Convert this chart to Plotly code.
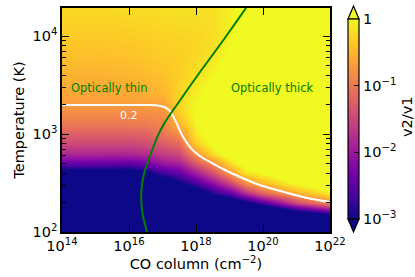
import plotly.graph_objects as go

# log10 of CO column density (heatmap column centres)
LOG_N = [14, 15, 16, 16.5, 17, 17.5, 18, 18.5, 19, 19.5, 20, 21, 22]
# log10 of temperature (heatmap row centres)
LOG_T = [2.0, 2.1, 2.2, 2.3, 2.4, 2.5, 2.6, 2.7, 2.8, 2.9, 3.0, 3.1, 3.2, 3.3, 3.4, 3.6, 3.8, 4.0, 4.3]

# log10(v2/v1), one list per column (values over LOG_T)
ratio_n14 = [-6, -6, -5.5, -5, -4.6, -4, -3.3, -2.4, -1.85, -1.5, -1.25, -1.0, -0.85, -0.7, -0.62, -0.52, -0.42, -0.33, -0.22]
ratio_n15 = [-6, -6, -5.5, -5, -4.6, -4, -3.3, -2.4, -1.85, -1.5, -1.25, -1.0, -0.85, -0.7, -0.62, -0.52, -0.42, -0.33, -0.22]
ratio_n16 = [-6, -6, -5.5, -5, -4.6, -4, -3.35, -2.45, -1.85, -1.5, -1.25, -1.0, -0.85, -0.7, -0.61, -0.5, -0.4, -0.32, -0.21]
ratio_n16h = [-6, -6, -5.5, -5, -4.5, -3.8, -3.1, -2.3, -1.8, -1.45, -1.2, -0.98, -0.83, -0.68, -0.55, -0.45, -0.36, -0.3, -0.2]
ratio_n17 = [-6, -6, -5.5, -5, -4.3, -3.5, -2.7, -2.0, -1.6, -1.3, -1.05, -0.9, -0.8, -0.69, -0.5, -0.4, -0.32, -0.27, -0.18]
ratio_n17h = [-6, -6, -5.5, -4.9, -4.0, -3.1, -2.45, -1.9, -1.5, -1.15, -0.82, -0.5, -0.32, -0.25, -0.26, -0.3, -0.3, -0.26, -0.16]
ratio_n18 = [-6, -6, -5.5, -4.5, -3.5, -2.6, -1.95, -1.3, -0.78, -0.3, -0.12, -0.02, 0.02, 0.0, -0.06, -0.17, -0.24, -0.25, -0.18]
ratio_n18h = [-6, -6, -5, -3.8, -2.85, -2.1, -1.4, -0.8, -0.2, 0.05, 0.15, 0.2, 0.2, 0.18, 0.12, -0.03, -0.14, -0.2, -0.17]
ratio_n19 = [-6, -6, -5, -3.6, -2.45, -1.5, -0.75, -0.2, 0.2, 0.35, 0.4, 0.4, 0.4, 0.4, 0.35, 0.15, 0.05, -0.05, -0.08]
ratio_n19h = [-6, -6, -4.8, -3.2, -1.75, -0.8, -0.15, 0.2, 0.5, 0.5, 0.5, 0.5, 0.5, 0.5, 0.5, 0.4, 0.35, 0.2, 0.1]
ratio_n20 = [-6, -5.5, -4.2, -2.6, -1.2, -0.45, 0.0, 0.3, 0.5, 0.5, 0.5, 0.5, 0.5, 0.5, 0.5, 0.5, 0.5, 0.45, 0.4]
ratio_n21 = [-6, -5, -3.2, -1.5, -0.5, 0.05, 0.4, 0.5, 0.5, 0.5, 0.5, 0.5, 0.5, 0.5, 0.5, 0.5, 0.5, 0.5, 0.5]
ratio_n22 = [-6, -5, -2.5, -0.85, -0.1, 0.3, 0.5, 0.5, 0.5, 0.5, 0.5, 0.5, 0.5, 0.5, 0.5, 0.5, 0.5, 0.5, 0.5]

COLUMNS = [ratio_n14, ratio_n15, ratio_n16, ratio_n16h, ratio_n17, ratio_n17h, ratio_n18,
           ratio_n18h, ratio_n19, ratio_n19h, ratio_n20, ratio_n21, ratio_n22]

# v2/v1 = 0.2 contour (log10 N, log10 T)
contour_logN = [14.0, 16.627, 16.866, 17.045, 17.194, 17.313, 17.433, 17.552, 17.672, 17.821,
                18.0, 18.209, 18.478, 18.806, 19.313, 19.821, 20.358, 20.955, 21.463, 22.0]
contour_logT = [3.296, 3.296, 3.291, 3.276, 3.245, 3.184, 3.102, 3.010, 2.939, 2.867,
                2.806, 2.755, 2.704, 2.643, 2.561, 2.490, 2.434, 2.378, 2.337, 2.306]

# optical-depth (tau = 1) boundary
tau_logN = [16.537, 16.418, 16.364, 16.382, 16.463, 16.582, 16.716, 16.836, 17.060, 17.299,
            17.552, 17.821, 18.119, 18.448, 18.776, 19.134, 19.493]
tau_logT = [2.0, 2.163, 2.327, 2.469, 2.612, 2.735, 2.857, 2.964, 3.112, 3.235,
            3.357, 3.490, 3.633, 3.786, 3.939, 4.112, 4.286]

X_TICKS = [14, 16, 18, 20, 22]
X_TICKTEXT = ["10<sup>14</sup>", "10<sup>16</sup>", "10<sup>18</sup>", "10<sup>20</sup>", "10<sup>22</sup>"]
Y_TICKS = [2, 3, 4]
Y_TICKTEXT = ["10<sup>2</sup>", "10<sup>3</sup>", "10<sup>4</sup>"]
Y_MINOR = [0.30103, 0.47712, 0.60206, 0.69897, 0.77815, 0.84510, 0.90309, 0.95424]
CB_TICKS = [-3, -2, -1, 0]
CB_TICKTEXT = ["10<sup>−3</sup>", "10<sup>−2</sup>", "10<sup>−1</sup>", "1"]

Y_TOP = 4.286

z = [[col[i] for col in COLUMNS] for i in range(len(LOG_T))]
y_minor_vals = [d + m for d in [2, 3] for m in Y_MINOR] + [4 + m for m in Y_MINOR if 4 + m < Y_TOP]

FONT = "DejaVu Sans"
GREEN = "#008000"
FS = 14.5


def px(xp):
    return (xp - 62) / 268


def py(yp):
    return (232 - yp) / 224


fig = go.Figure()
fig.add_trace(go.Heatmap(
    x=LOG_N, y=LOG_T, z=z, zmin=-3, zmax=0, colorscale="Plasma", zsmooth="best",
    hoverinfo="skip",
    colorbar=dict(
        x=px(348), xanchor="left", xpad=0,
        y=py(119), yanchor="middle", ypad=0,
        thickness=11, thicknessmode="pixels", len=200, lenmode="pixels",
        outlinewidth=1.2, outlinecolor="black",
        tickmode="array", tickvals=CB_TICKS, ticktext=CB_TICKTEXT,
        ticks="inside", ticklen=5, tickcolor="black",
        tickfont=dict(size=FS, family=FONT, color="black"),
    ),
))
fig.add_trace(go.Scatter(x=contour_logN, y=contour_logT, mode="lines",
                         line=dict(color="white", width=2, shape="spline", smoothing=0.4),
                         hoverinfo="skip", showlegend=False))
fig.add_trace(go.Scatter(x=tau_logN, y=tau_logT, mode="lines",
                         line=dict(color=GREEN, width=2, shape="spline", smoothing=0.5),
                         hoverinfo="skip", showlegend=False))

annots = [
    dict(x=15.43, y=3.47, text="Optically thin", font=dict(color=GREEN, size=11.5, family=FONT)),
    dict(x=20.27, y=3.47, text="Optically thick", font=dict(color=GREEN, size=11.5, family=FONT)),
    dict(x=16.0, y=3.19, text="0.2", font=dict(color="white", size=11, family=FONT)),
]
for a in annots:
    fig.add_annotation(xref="x", yref="y", showarrow=False, **a)

# colorbar label
fig.add_annotation(xref="paper", yref="paper", x=px(407), y=py(117), text="v2/v1", textangle=-90,
                   showarrow=False, xanchor="center", yanchor="middle",
                   font=dict(size=FS, family=FONT, color="black"))

top_tri = f"M {px(348)} {py(19)} L {px(359)} {py(19)} L {px(353.5)} {py(6)} Z"
bot_tri = f"M {px(348)} {py(219)} L {px(359)} {py(219)} L {px(353.5)} {py(232)} Z"
fig.add_shape(type="path", path=top_tri, xref="paper", yref="paper",
              fillcolor="#f0f921", line=dict(color="black", width=1.2))
fig.add_shape(type="path", path=bot_tri, xref="paper", yref="paper",
              fillcolor="#0d0887", line=dict(color="black", width=1.2))

axis_common = dict(showgrid=False, zeroline=False, showline=True, linecolor="black", linewidth=1.5,
                   mirror="ticks", ticks="inside", ticklen=7, tickwidth=1.2, tickcolor="black",
                   tickfont=dict(size=FS, family=FONT, color="black"))
fig.update_xaxes(range=[14, 22], tickmode="array", tickvals=X_TICKS, ticktext=X_TICKTEXT,
                 title=dict(text="CO column (cm<sup>−2</sup>)", font=dict(size=FS, family=FONT, color="black"),
                            standoff=5),
                 **axis_common)
fig.update_yaxes(range=[2, Y_TOP], tickmode="array", tickvals=Y_TICKS, ticktext=Y_TICKTEXT,
                 minor=dict(tickmode="array", tickvals=y_minor_vals, ticks="inside", ticklen=4,
                            tickwidth=1, tickcolor="black", showgrid=False),
                 title=dict(text="Temperature (K)", font=dict(size=FS, family=FONT, color="black"),
                            standoff=4),
                 **axis_common)
fig.update_layout(width=415, height=277, margin=dict(l=62, r=85, t=8, b=45, autoexpand=False),
                  paper_bgcolor="white", plot_bgcolor="white", showlegend=False,
                  font=dict(family=FONT, color="black"))
fig.write_html("out.html", config={"displayModeBar": False},
               post_script="document.body.style.margin='0px';")
